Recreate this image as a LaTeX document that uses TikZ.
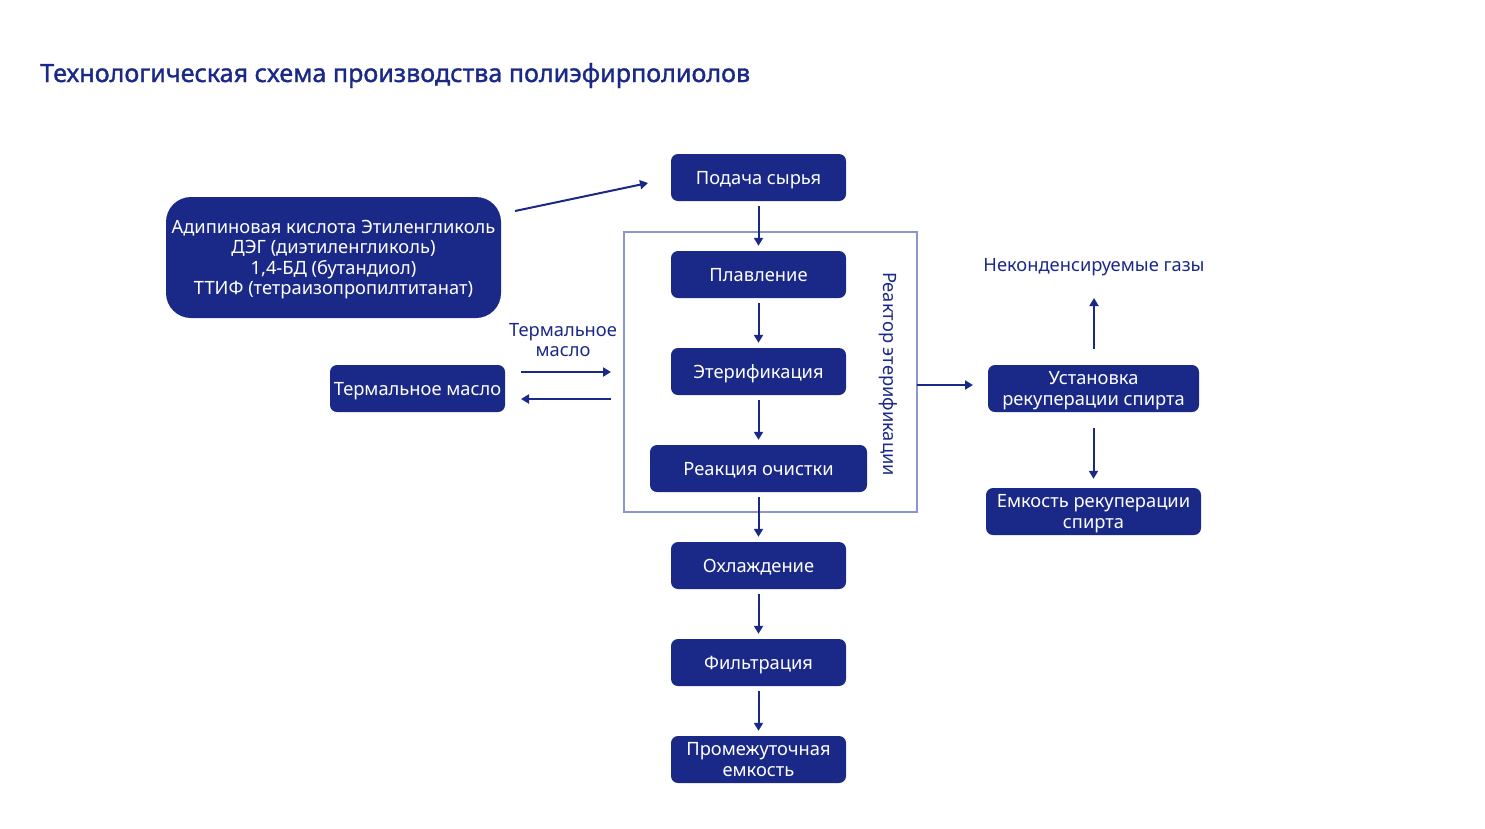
\documentclass[tikz,border=0pt]{standalone}
\usepackage{fontspec}
\setmainfont{Noto Sans}
\newfontfamily\titlefont[FakeBold=1.3]{Noto Sans}
\usetikzlibrary{arrows.meta,calc}
\definecolor{navy}{RGB}{26,41,135}
\definecolor{frame}{RGB}{140,150,200}
\begin{document}
\begin{tikzpicture}[x=1pt,y=-1pt,
  box/.style={fill=navy,text=white,rounded corners=7pt,minimum width=175pt,minimum height=47pt,inner sep=0pt,text depth=0pt,align=center,font=\fontsize{18.3}{20.5}\selectfont},
  lbl/.style={text=navy,align=center,font=\fontsize{18.3}{20.5}\selectfont},
  arr/.style={draw=navy,line width=2pt,-{Triangle[length=8pt,width=9pt]}},
  link/.style={arr,shorten >=5pt,shorten <=5pt}]
\useasboundingbox (0,0) rectangle (1485,828);
\node[anchor=base west,inner sep=0pt,text=navy,font=\fontsize{25.1}{28}\titlefont] (title) at (40,82) {Технологическая схема производства полиэфирполиолов};
% reactor frame
\draw[frame,line width=1.3pt] (624,232) rectangle (917,512);
\coordinate (frE) at (917,385);
\node[lbl,rotate=-90] (rlabel) at (888,374) {Реактор этерификации};
% main column
\node[box] (feed) at (758.5,177.5) {Подача сырья};
\node[box] (melt) at (758.5,274.5) {Плавление};
\node[box] (ester) at (758.5,371.5) {Этерификация};
\node[box,minimum width=217pt] (purif) at (758.5,468.5) {Реакция очистки};
\node[box] (cool) at (758.5,565.5) {Охлаждение};
\node[box] (filt) at (758.5,662.5) {Фильтрация};
\node[box] (tank) at (758.5,759.5) {Промежуточная\\емкость};
% left side
\node[box,minimum width=335pt,minimum height=121pt,rounded corners=25pt] (raw) at (333.5,257.5) {Адипиновая кислота Этиленгликоль\\ДЭГ (диэтиленгликоль)\\1,4-БД (бутандиол)\\ТТИФ (тетраизопропилтитанат)};
\node[box] (oil) at (417.5,388.5) {Термальное масло};
\node[lbl] (oillbl) at (563,340) {Термальное\\масло};
% right side
\node[box,minimum width=211pt] (rec) at (1093.5,388.5) {Установка\\рекуперации спирта};
\node[box,minimum width=215pt] (rtank) at (1093.5,511.5) {Емкость рекуперации\\спирта};
\node[lbl,text depth=0pt] (gas) at (1094,265) {Неконденсируемые газы};
% connectors
\coordinate (rawOut) at (515,211);
\coordinate (feedIn) at (648,183);
\draw[arr] (rawOut) -- (feedIn);
\draw[link] (feed) -- (melt);
\draw[link] (melt) -- (ester);
\draw[link] (ester) -- (purif);
\draw[link] (purif) -- (cool);
\draw[link] (cool) -- (filt);
\draw[link] (filt) -- (tank);
\coordinate (oilA1) at (521,372);
\coordinate (oilA2) at (611,372);
\coordinate (oilB1) at (611,399);
\coordinate (oilB2) at (521,399);
\draw[arr] (oilA1) -- (oilA2);
\draw[arr] (oilB1) -- (oilB2);
\coordinate (recIn) at (973,385);
\draw[arr] (frE) -- (recIn);
\coordinate (gasA) at (1094,349);
\coordinate (gasB) at (1094,298);
\draw[arr] (gasA) -- (gasB);
\draw[arr,shorten <=16pt,shorten >=9pt] (rec) -- (rtank);
\end{tikzpicture}
\end{document}
